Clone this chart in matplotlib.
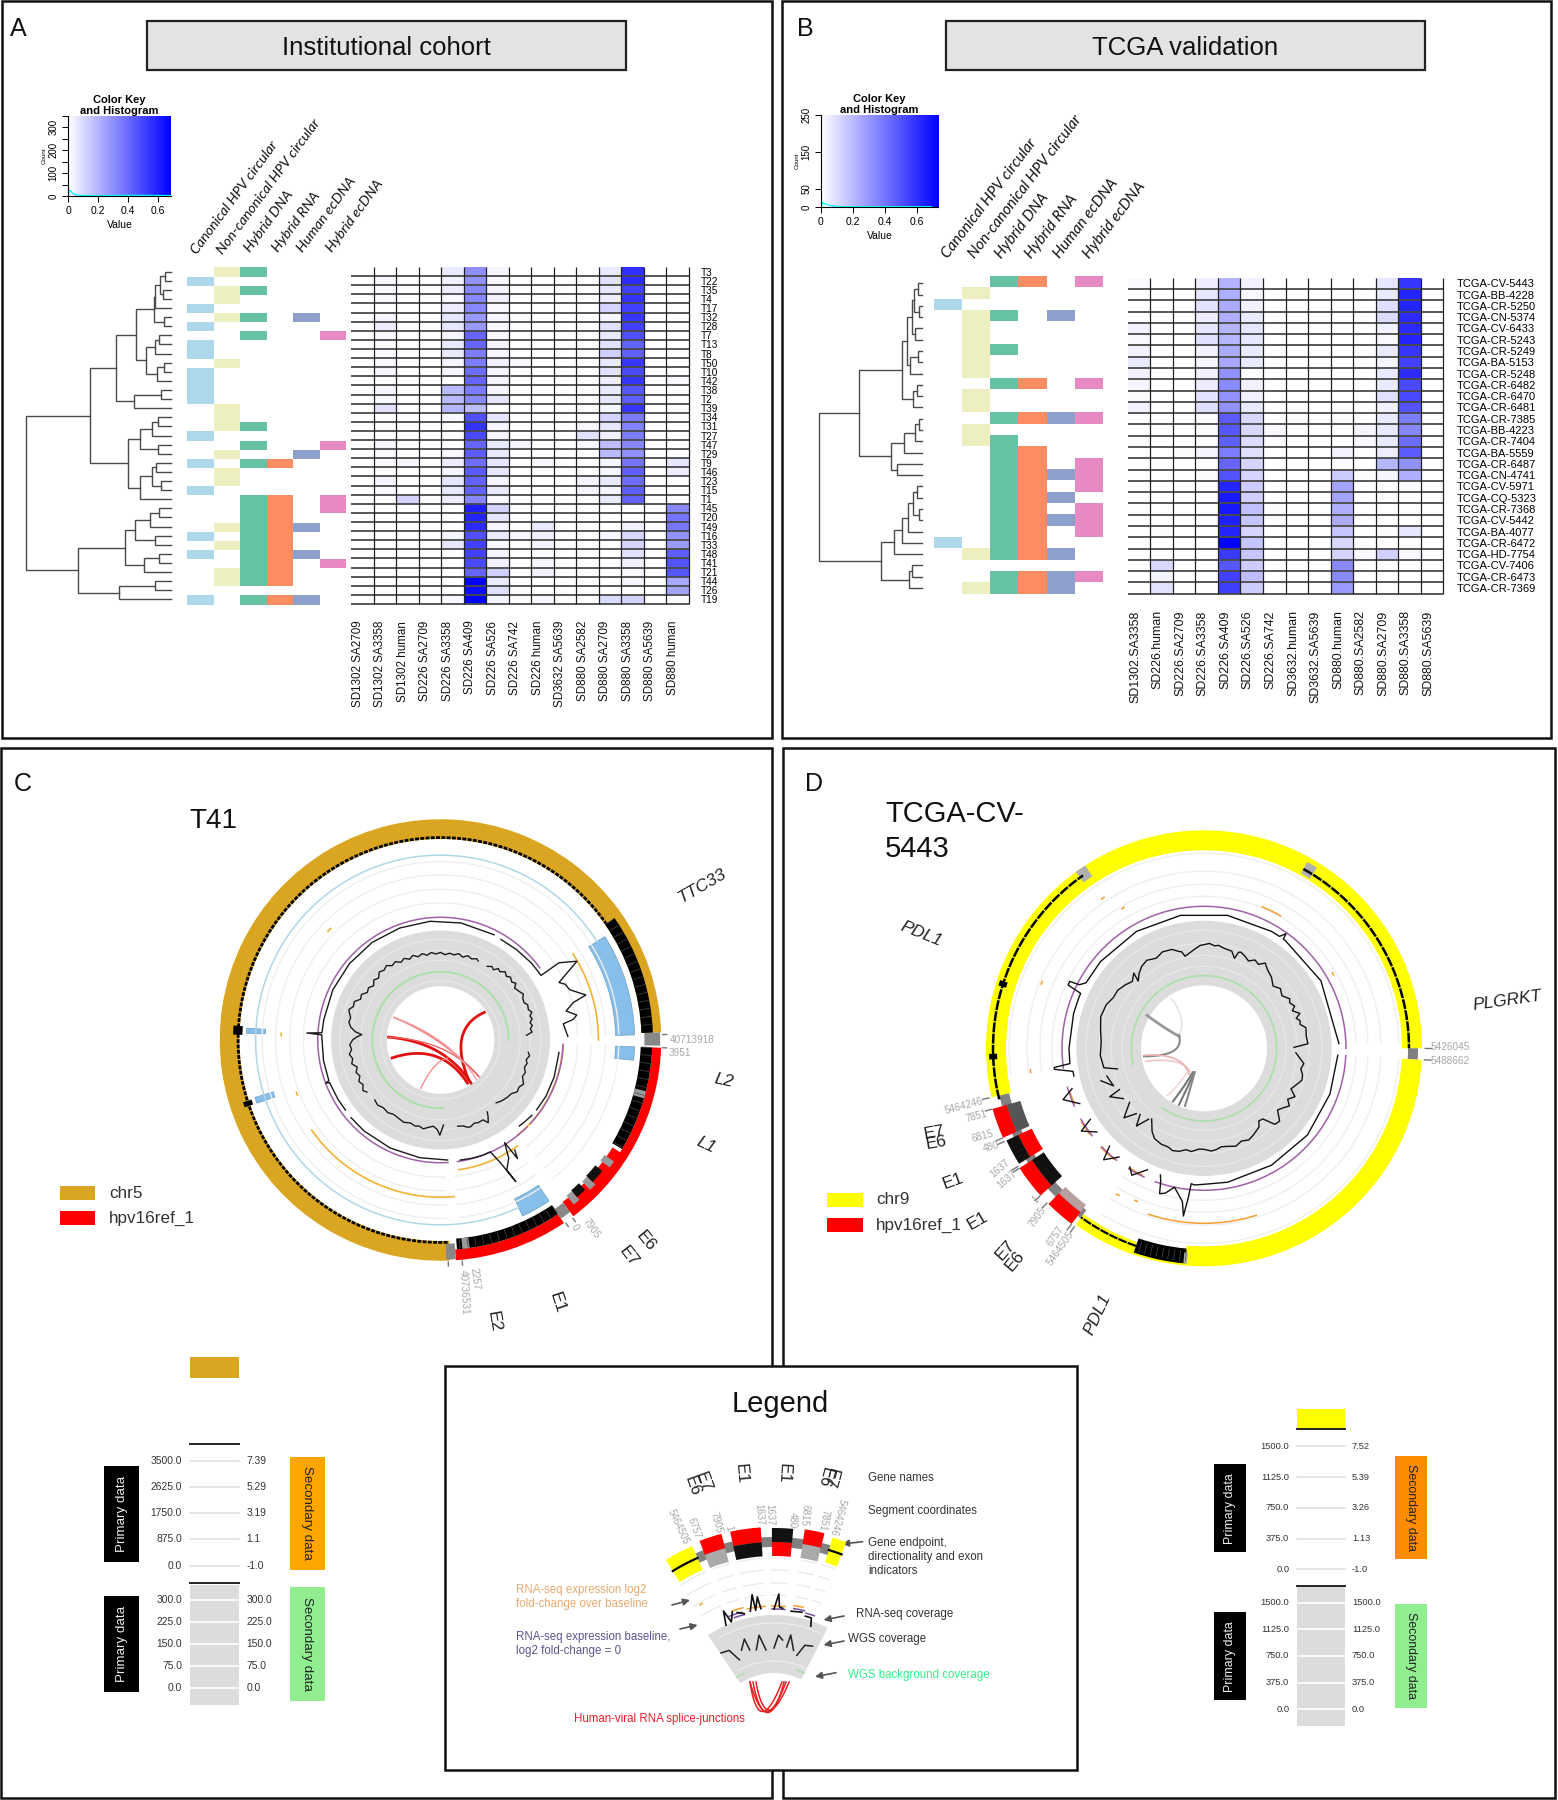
"""Four panel figure: two clustered heatmaps (A, B), two circular genome plots (C, D) and a legend."""
import matplotlib

matplotlib.use("Agg")
import matplotlib.pyplot as plt
import numpy as np
from matplotlib.colors import LinearSegmentedColormap
from matplotlib.patches import Rectangle

W, H = 1558, 1800
SANS = ["Liberation Sans", "DejaVu Sans"]
NARROW = ["Liberation Sans Narrow", "Liberation Sans", "DejaVu Sans"]
plt.rcParams["font.family"] = SANS

HEAT = LinearSegmentedColormap.from_list("heat", ["#FFFFFF", "#0000FF"])
ANNOT_COLORS = ["#ADD8EC", "#EDEFBE", "#66C2A5", "#FC8D62", "#8DA0CB", "#E78AC3"]
ANNOT_NAMES = ["Canonical HPV circular", "Non-canonical HPV circular", "Hybrid DNA",
               "Hybrid RNA", "Human ecDNA", "Hybrid ecDNA"]

# ---------------- panel A data ----------------
A_SAMPLES = ["T3", "T22", "T35", "T4", "T17", "T32", "T28", "T7", "T13", "T8", "T50", "T10", "T42",
             "T38", "T2", "T39", "T34", "T31", "T27", "T47", "T29", "T9", "T46", "T23", "T15", "T1",
             "T45", "T20", "T49", "T16", "T33", "T48", "T41", "T21", "T44", "T26", "T19"]
A_FEATURES = ["SD1302 SA2709", "SD1302 SA3358", "SD1302 human", "SD226 SA2709", "SD226 SA3358",
              "SD226 SA409", "SD226 SA526", "SD226 SA742", "SD226 human", "SD3632 SA5639",
              "SD880 SA2582", "SD880 SA2709", "SD880 SA3358", "SD880 SA5639", "SD880 human"]
# values are x100
A_VALUES = [
    [0, 0, 0, 0, 6, 31, 3, 0, 0, 0, 0, 6, 57, 0, 0],
    [0, 2, 0, 0, 4, 30, 2, 0, 0, 0, 0, 8, 58, 0, 0],
    [0, 2, 0, 0, 5, 33, 3, 0, 0, 0, 0, 7, 52, 0, 0],
    [0, 2, 0, 0, 2, 33, 4, 0, 0, 0, 0, 5, 56, 0, 0],
    [0, 0, 0, 0, 5, 33, 2, 0, 0, 0, 0, 12, 52, 0, 0],
    [0, 3, 0, 0, 7, 28, 3, 1, 0, 0, 0, 3, 55, 0, 0],
    [0, 5, 0, 0, 7, 28, 2, 0, 0, 0, 0, 8, 52, 0, 0],
    [0, 2, 0, 0, 3, 42, 2, 0, 0, 0, 0, 6, 48, 0, 0],
    [0, 1, 0, 0, 6, 42, 3, 0, 0, 0, 0, 8, 43, 0, 0],
    [0, 2, 0, 0, 6, 36, 2, 0, 0, 0, 0, 13, 44, 0, 0],
    [0, 2, 0, 0, 3, 36, 4, 2, 0, 0, 0, 6, 55, 0, 0],
    [0, 3, 0, 0, 3, 40, 3, 0, 0, 0, 0, 8, 50, 0, 0],
    [0, 0, 0, 0, 0, 42, 3, 0, 0, 0, 0, 5, 55, 0, 2],
    [0, 3, 0, 0, 19, 36, 3, 0, 0, 0, 0, 6, 46, 0, 0],
    [0, 2, 0, 0, 19, 32, 7, 0, 0, 0, 0, 7, 44, 0, 0],
    [0, 8, 0, 0, 20, 18, 0, 0, 0, 0, 0, 3, 55, 0, 0],
    [0, 0, 0, 0, 2, 48, 7, 0, 0, 0, 0, 12, 36, 0, 1],
    [0, 1, 0, 0, 0, 56, 3, 0, 0, 0, 2, 7, 34, 0, 0],
    [0, 0, 0, 0, 1, 50, 3, 0, 0, 0, 8, 4, 36, 0, 0],
    [0, 3, 0, 0, 0, 42, 6, 3, 0, 0, 2, 18, 33, 0, 0],
    [0, 2, 0, 0, 2, 45, 6, 0, 0, 0, 0, 19, 30, 0, 0],
    [0, 2, 3, 0, 5, 40, 7, 0, 2, 0, 0, 3, 38, 0, 7],
    [0, 0, 0, 0, 3, 45, 7, 0, 0, 0, 0, 3, 44, 0, 5],
    [0, 3, 0, 0, 7, 43, 3, 0, 0, 0, 3, 6, 40, 0, 0],
    [0, 2, 0, 0, 6, 43, 6, 0, 0, 0, 3, 3, 44, 0, 0],
    [0, 0, 12, 1, 5, 33, 2, 0, 0, 0, 0, 6, 43, 0, 0],
    [0, 0, 0, 0, 0, 62, 12, 0, 0, 0, 0, 0, 0, 0, 32],
    [0, 0, 0, 0, 0, 60, 7, 0, 0, 0, 0, 0, 0, 0, 38],
    [0, 0, 0, 0, 0, 58, 3, 0, 6, 0, 0, 0, 4, 0, 37],
    [0, 0, 0, 0, 3, 48, 6, 2, 4, 0, 0, 2, 11, 0, 30],
    [0, 0, 0, 0, 7, 52, 2, 0, 3, 0, 0, 0, 12, 0, 28],
    [0, 0, 0, 0, 1, 52, 3, 0, 1, 0, 0, 0, 8, 0, 44],
    [0, 0, 0, 0, 0, 50, 4, 0, 3, 0, 0, 0, 4, 0, 47],
    [0, 0, 0, 0, 0, 42, 13, 0, 4, 0, 0, 0, 2, 0, 46],
    [0, 0, 0, 0, 0, 70, 6, 0, 0, 0, 0, 0, 3, 0, 24],
    [0, 0, 0, 0, 0, 66, 9, 1, 0, 0, 0, 0, 0, 0, 25],
    [0, 0, 0, 0, 2, 70, 3, 0, 2, 0, 0, 10, 12, 0, 1],
]
A_CANONICAL = [1, 4, 6, 8, 9, 11, 12, 13, 14, 18, 21, 24, 29, 31, 36]
A_NONCANONICAL = [0, 2, 3, 5, 10, 15, 16, 17, 20, 22, 23, 28, 30, 33, 34]
A_HYBRID_DNA = [0, 2, 5, 7, 17, 19, 21, 25, 26, 27, 28, 29, 30, 31, 32, 33, 34, 36]
A_HYBRID_RNA = [21, 25, 26, 27, 28, 29, 30, 31, 32, 33, 34, 36]
A_HUMAN_ECDNA = [5, 20, 28, 31, 36]
A_HYBRID_ECDNA = [7, 19, 25, 26, 32]
# (height, left, right), ints are leaf rows
A_TREE = (291,
          (162,
           (110,
            (70,
             (35, (33, (22, (12, 0, 1), (16, 2, 3)), 4), (15, 5, 6)),
             (51, (32, (24, 7, 8), 9), (28, (15, 10, 11), 12))),
            (74, (21, 13, 14), 15)),
           (86,
            (63, (39, (26, 16, 17), 18), (27, 19, 20)),
            (62, (38, (30, 21, 22), (21, 23, 24)), 25))),
          (187,
           (92,
            (72, (42, (24, 26, 27), 28), (32, 29, 30)),
            (54, (24, 31, 32), 33)),
           (105, (33, 34, 35), 36)))
KEY_COUNT_X = [0.0, 0.003, 0.01, 0.02, 0.03, 0.05, 0.08, 0.12, 0.2, 0.3, 0.4, 0.5, 0.69]
A_KEY_COUNT = [350, 5, 25, 22, 12, 6, 3, 2, 1, 2, 3, 3, 2]
B_KEY_COUNT = [250, 3, 12, 10, 8, 5, 3, 1, 1, 1, 1, 1, 1]

# ---------------- panel B data ----------------
B_SAMPLES = ["TCGA-CV-5443", "TCGA-BB-4228", "TCGA-CR-5250", "TCGA-CN-5374", "TCGA-CV-6433",
             "TCGA-CR-5243", "TCGA-CR-5249", "TCGA-BA-5153", "TCGA-CR-5248", "TCGA-CR-6482",
             "TCGA-CR-6470", "TCGA-CR-6481", "TCGA-CR-7385", "TCGA-BB-4223", "TCGA-CR-7404",
             "TCGA-BA-5559", "TCGA-CR-6487", "TCGA-CN-4741", "TCGA-CV-5971", "TCGA-CQ-5323",
             "TCGA-CR-7368", "TCGA-CV-5442", "TCGA-BA-4077", "TCGA-CR-6472", "TCGA-HD-7754",
             "TCGA-CV-7406", "TCGA-CR-6473", "TCGA-CR-7369"]
B_FEATURES = ["SD1302.SA3358", "SD226.human", "SD226.SA2709", "SD226.SA3358", "SD226.SA409",
              "SD226.SA526", "SD226.SA742", "SD3632.human", "SD3632.SA5639", "SD880.human",
              "SD880.SA2582", "SD880.SA2709", "SD880.SA3358", "SD880.SA5639"]
B_VALUES = [
    [2, 0, 0, 5, 21, 4, 0, 0, 0, 0, 0, 7, 55, 0],
    [0, 0, 0, 7, 22, 2, 0, 0, 0, 0, 0, 6, 60, 0],
    [0, 0, 0, 8, 23, 4, 0, 0, 0, 0, 0, 9, 60, 0],
    [0, 0, 0, 5, 22, 6, 0, 0, 0, 0, 0, 10, 58, 0],
    [4, 0, 0, 7, 20, 7, 0, 0, 0, 0, 0, 4, 58, 0],
    [2, 0, 0, 9, 20, 7, 0, 0, 0, 0, 0, 2, 60, 0],
    [4, 0, 0, 4, 23, 6, 0, 0, 0, 0, 0, 6, 55, 0],
    [6, 0, 0, 3, 24, 6, 0, 0, 0, 0, 0, 3, 52, 0],
    [4, 0, 0, 4, 30, 0, 0, 0, 0, 0, 0, 6, 58, 0],
    [3, 0, 0, 5, 32, 4, 0, 0, 0, 0, 0, 6, 50, 0],
    [1, 0, 0, 8, 30, 4, 0, 0, 0, 0, 0, 9, 50, 0],
    [4, 0, 0, 9, 30, 6, 0, 0, 0, 0, 0, 4, 47, 0],
    [0, 0, 0, 1, 45, 11, 0, 1, 0, 1, 0, 6, 36, 0],
    [0, 0, 0, 1, 46, 11, 2, 0, 0, 0, 3, 6, 33, 0],
    [1, 0, 0, 1, 44, 10, 1, 0, 0, 0, 2, 6, 40, 0],
    [0, 0, 1, 3, 36, 9, 0, 0, 0, 4, 0, 5, 45, 0],
    [0, 0, 0, 0, 42, 12, 0, 0, 0, 1, 0, 20, 30, 0],
    [0, 0, 0, 1, 47, 12, 0, 0, 0, 14, 1, 3, 22, 0],
    [0, 0, 0, 0, 60, 14, 0, 0, 0, 25, 0, 0, 1, 0],
    [0, 0, 0, 0, 63, 13, 0, 0, 0, 25, 0, 0, 0, 0],
    [0, 0, 0, 0, 63, 17, 1, 0, 0, 22, 0, 0, 0, 0],
    [0, 0, 0, 0, 61, 16, 0, 0, 0, 23, 0, 0, 0, 0],
    [0, 1, 0, 0, 60, 12, 0, 0, 0, 16, 0, 1, 7, 0],
    [0, 0, 0, 0, 70, 16, 0, 0, 0, 11, 0, 0, 0, 0],
    [0, 0, 0, 0, 54, 16, 0, 0, 0, 12, 2, 13, 2, 0],
    [0, 11, 0, 0, 46, 14, 0, 0, 0, 32, 0, 0, 0, 0],
    [0, 3, 0, 0, 52, 18, 0, 0, 0, 32, 0, 0, 0, 0],
    [0, 8, 0, 0, 53, 14, 0, 0, 0, 28, 0, 0, 0, 0],
]
B_CANONICAL = [2, 23]
B_NONCANONICAL = [1, 3, 4, 5, 6, 7, 8, 10, 11, 13, 14, 24, 27]
B_HYBRID_DNA = [0, 3, 6, 9, 12, 14, 15, 16, 17, 18, 19, 20, 21, 22, 23, 24, 26, 27]
B_HYBRID_RNA = [0, 9, 12, 15, 16, 17, 18, 19, 20, 21, 22, 23, 24, 26, 27]
B_HUMAN_ECDNA = [3, 12, 17, 19, 21, 24, 26, 27]
B_HYBRID_ECDNA = [0, 9, 12, 16, 17, 18, 20, 21, 22, 26]
B_TREE = (206,
          (125,
           (40,
            (30,
             (20, (16, (8, 0, 1), (5, 2, 3)), (13, 4, 5)),
             (23, (8, 6, 7), 8)),
            (18, (10, 9, 10), 11)),
           (62,
            (35, (13, (6, 12, 13), 14), 15),
            (50, 16, 17))),
          (81,
           (56,
            (40, (28, (18, (10, 18, 19), (5, 20, 21)), 22), 23),
            24),
           (26, (20, 25, 26), 27)))

# ---------------- panel C data (radius in reference units, 2.786 per pixel) ----------------
C_WGS_THETA = [98, 100, 103, 105, 108, 111, 114, 118, 121, 124, 127, 131, 135, 138.5, np.nan,
               147, 148, 150, 152, 155.5, 158, 161, 163, 165, 168.7, np.nan,
               178, 179, 180.4, 182, 184.8, 188, 191, 194, 196.3, 200, 204, 207.6, 212, 216, 220, 224, 227.6, np.nan,
               234.7, 237, 240, 243, 246, 249, 252, 255, 258, 261, 264, 267, 270, 272, 273.9, 275.5, 278, 281, 284,
               287, 288.4, 291, 294, 297, 300, 303, 306, 309, 312, 315, 318, 321, 324, 327, 330, 333, 336, 339,
               342, 345, 348, 351, 354, 357, 360, 363, 366, 369, 372, 375, 378, 381, 384, 385.5, np.nan,
               32.4, 35, 37, 39, 41, 43.5, 46, 48, 51, 53, 55, 58.5, 61, 63, 66, 68, 70.9, 73, 75, 77, 79, 81, 83, 85,
               86.9]
C_WGS_R = [247, 252, 245, 250, 246, 253, 250, 262, 255, 258, 248, 245, 240, 234, np.nan,
           239, 250, 266, 252, 253, 250, 256, 254, 248, 245, np.nan,
           237, 248, 265, 250, 241, 246, 252, 247, 250, 246, 251, 248, 245, 250, 247, 252, 248, np.nan,
           251, 258, 249, 255, 246, 252, 244, 256, 250, 257, 249, 253, 245, 234, 220, 238, 252, 260, 258,
           266, 269, 260, 263, 250, 254, 243, 248, 240, 250, 244, 255, 250, 256, 247, 252, 243, 249, 241,
           248, 240, 246, 239, 245, 240, 244, 238, 243, 240, 246, 239, 247, 242, 248, 244, np.nan,
           243, 250, 245, 256, 252, 262, 255, 262, 256, 263, 252, 258, 264, 257, 255, 262, 259, 266, 258, 262, 254,
           259, 252, 256, 240]
C_RNA_THETA = [233.6, 240, 249, 249.4, 250, 260, 270, 272.5, 273, 273.5, 280, 295, 310, 325, 340, 355, 370, 387, np.nan,
               176.6, 190, 205, 220, 229, np.nan,
               170.7, 165, 160, 156, 154, 152, 153, 150, 148, 147, 146, np.nan,
               137.5, 134, 129.5, np.nan, 126, 118, 108, 96, np.nan,
               31, 40, 50, 57.3, 56.9, 60, 64.1, 66, 68.7, 72.8, 74.2, 77, 79.6, 81.2, 82.5, 88.4]
C_RNA_R = [329, 330, 331, 342, 331, 331, 330, 331, 373, 331, 330, 331, 331, 332, 332, 332, 331, 329, np.nan,
           335, 333, 332, 331, 330, np.nan,
           339, 341, 342, 341, 380, 447, 407, 380, 337, 394, 370, np.nan,
           325, 327, 330, np.nan, 331, 333, 333, 332, np.nan,
           327, 329, 332, 333, 394, 439, 367, 381, 386, 424, 385, 359, 386, 374, 345, 355]
C_ORANGE_ARCS = [(57, 90, 440), (175, 235, 438), (144, 172, 365), (93, 141, 341),
                 (314, 315.5, 436), (271.6, 272.4, 444), (249, 250, 427)]
C_PURPLE_ARCS = [(176.5, 414), (92, 133), (135, 172)]
C_BLUE_RECTS = [(57.8, 88.5), (92, 96), (146, 155), (272, 273.5), (251, 252.8)]
C_GRID_R = [497, 460, 420, 382]
C_BAND_LINES_R = [280, 250, 222, 165]
C_ARCS = [((-130, -63), (10, -5), (108, 103), "#F08080", 1.2),
          ((-145, -8), (10, 5), (85, 120), "#E01010", 2.0),
          ((-135, 50), (0, 5), (75, 120), "#E01010", 2.0),
          ((122, -77), (20, -30), (78, 110), "#E01010", 2.0),
          ((-55, 135), (-20, 60), (20, 50), "#F09090", 1.0),
          ((-145, -8), (20, 0), (105, 100), "#EE6060", 1.0),
          ((-130, -63), (30, -5), (100, 110), "#F4A0A0", 1.0)]
C_GENE_LABELS = [("TTC33", 702, 886, 30, True), ("L2", 724, 1081, -12, True), ("L1", 706, 1145, -25, True),
                 ("E6", 646, 1241, -50, False), ("E7", 629, 1257, -52, False), ("E1", 557, 1303, -72, False),
                 ("E2", 494, 1322, -80, False)]
C_COORDS = [("40713918", 692, 1040, 0), ("3951", 680, 1053, 0), ("7905", 591, 1228, -55), ("0", 575, 1228, -55),
            ("2257", 475, 1279, -83), ("40736531", 464, 1292, -87)]
C_COORD_THETA = [88.6, 92, 143.4, 145.6, 174.4, 178]

# ---------------- panel D data (radius in pixels) ----------------
D_WGS_THETA = [89.4, 87.5, 83, 78.6, 76, 74, 72, 70, 67, 65, 62, 60, 56, 52, 48, 43.5, 39, 35.7, 33, 30, 27, 23.7, 21,
               19.8, 18.7, 16, 11.4, 8, 6, 3, 0.9, -2, -5, -8, -11.6, -13, -14.5, -18, -23.3, -28, -33, -37.2, -41,
               -44.4, -43, -47, -51, -56, -61, -66, -73, -80, -86.5, -94, -101, -103.4, np.nan,
               252.5, 247.5, 254, np.nan, 244, 242.8, 238, np.nan, 234, 229, 226, np.nan, 224, 221, 218, np.nan,
               216.5, 212, 208.7, 204, 200, 197, 193.6, 190, 187, 183, 180, 176, 173, 170, 166, 162, 158, 154, 150.7,
               148, 145, 143, 140.2, 137, 133.9, 130, 127, 124, 121.4, 118, 115, 111.8, 108, 105, 102, 98.7, 92.8]
D_WGS_R = [90, 104, 103, 104, 99, 100, 97, 102, 96, 100, 97, 99, 94, 97, 93, 98, 101, 105, 100, 102, 98, 101, 103,
           102, 95, 101, 102, 104, 103, 105, 104, 103, 100, 97, 94, 99, 100, 104, 105, 102, 105, 103, 99,
           94, 103, 98, 101, 104, 104, 107, 108, 105, 103, 104, 102, 89, np.nan,
           108, 98, 101, np.nan, 94, 106, 95, np.nan, 92, 106, 94, np.nan, 92, 103, 90, np.nan,
           88, 98, 103, 105, 105, 107, 106, 103, 104, 101, 101, 103, 102, 100, 101, 103, 100, 102, 100,
           98, 96, 91, 92, 104, 105, 96, 99, 103, 98, 103, 96, 99, 103, 102, 99, 101, 92]
D_RNA_THETA = [258, 260, 262, 262.7, 263.5, 270, 285, 292, 294, 295, 296.5, 297, 299, 310, 330,
               350, 370, 390, 394, 395.6, 396, 397, 420, 448, np.nan,
               93, 110, 130, 150, 170, 180, 184, 185.4, 186, 187, 188, 190, 192, 195, 197, 198, 199, np.nan,
               205, 209.6, 212, np.nan, 218, 222, 224, np.nan, 232, 236, 238, np.nan, 246, 250, 253]
D_RNA_R = [133, 133, 151, 151, 135, 135, 135, 135, 135, 150, 150, 140, 135, 135, 135,
           135, 135, 135, 135, 141, 135, 135, 135, 135, np.nan,
           134, 134, 135, 135, 136, 136, 137, 136, 150, 169, 155, 148, 142, 150, 152, 140, 134, np.nan,
           134, 146, 140, np.nan, 138, 150, 136, np.nan, 136, 148, 134, np.nan, 136, 150, 138]
D_ORANGE_ARCS = [(162.6, 198.6, 175), (22.4, 30, 153), (325.5, 326.5, 181), (329.5, 330.5, 162), (291.5, 292.5, 175),
                 (262, 263, 175), (59.5, 60.5, 149), (203.5, 204.5, 167), (210, 211, 170),
                 (206, 212, 141), (219, 226, 143), (233, 239, 143), (247, 252, 141)]
D_PURPLE_ARCS = [(262, 450), (93, 200), (205, 212), (218, 226), (232, 240), (246, 254)]
D_GRID_R = [195, 177, 164, 152]
D_BAND_LINES_R = [118, 105, 93, 82]
D_ARCS = [((-33, -50), (-17, -31), (-25, -12), "#E0E0E0", 1.0),
          ((-57, -33), (-41, -21), (-25, -12), "#999999", 2.0),
          ((-60, 8), (-19, 8), (-25, -13), "#888888", 1.5),
          ((-58, 13), (-17, 8), (-12, 28), "#F0C8C8", 1.2),
          ((-59, 7), (-21, 4.5), (-15, 26), "#E8B0B0", 1.2),
          ((-37, 47.5), (-25, 37), (-17, 24), "#F0D0D0", 1.0),
          ((-31, 53), (-21, 40), (-11, 24), "#777777", 1.5),
          ((-25, 56.5), (-17, 40), (-9.4, 24), "#777777", 1.5),
          ((-19, 57.6), (-13.5, 40), (-9.4, 24), "#888888", 1.5)]
D_BLOCKS = [(246, 254, "red", "#555555", 191), (228, 237, "red", "#111111", 191), (217, 225, "red", "#B8A0A0", 196)]
D_BLOCK_FLIPPED = (238, 245)
D_GENE_LABELS = [("E7", 934, 1133, 10, False), ("E6", 936, 1143, 10, False), ("E1", 953, 1181, 20, False),
                 ("E1", 978, 1221, 30, False), ("E7", 1005, 1250, 48, False), ("E6", 1015, 1261, 50, False),
                 ("PDL1", 921, 934, -22, True), ("PDL1", 1098, 1314, 65, True), ("PLGRKT", 1507, 1001, 8, True)]
D_COORDS = [("5426045", 1450, 1047, 0), ("5488662", 1450, 1061, 0), ("5464246", 964, 1106, 15), ("7851", 976, 1116, 15),
            ("6815", 983, 1136, 15), ("480", 991, 1147, 15), ("1637", 1000, 1169, 40), ("1637", 1007, 1180, 40),
            ("1", 1035, 1200, 40), ("7905", 1037, 1217, 55), ("6757", 1055, 1236, 55), ("5464505", 1060, 1248, 55)]
D_COORD_THETA = [90, 93, 257, 254, 246, 245, 237.6, 237, 228, 225.4, 217, 216]

# ---------------- scale legends ----------------
C_RNA_PRIMARY = ["3500.0", "2625.0", "1750.0", "875.0", "0.0"]
C_RNA_SECONDARY = ["7.39", "5.29", "3.19", "1.1", "-1.0"]
C_WGS_TICKS = ["300.0", "225.0", "150.0", "75.0", "0.0"]
D_RNA_PRIMARY = ["1500.0", "1125.0", "750.0", "375.0", "0.0"]
D_RNA_SECONDARY = ["7.52", "5.39", "3.26", "1.13", "-1.0"]
D_WGS_TICKS = ["1500.0", "1125.0", "750.0", "375.0", "0.0"]

# ---------------- legend fan ----------------
FAN_BLOCKS = [(-21.2, -14.8, "red", "#AAAAAA"), (-12.3, -3.7, "red", "#111111"),
              (8.6, 14.2, "red", "#AAAAAA")]
FAN_BLOCK_FLIPPED = (-0.6, 5.4)
FAN_YELLOW = [(-32, -23.6), (16.7, 20.7)]
FAN_WGS = [([-33.5, -28.5, -25.3], [96, 94, 81]), ([-21.4, -17.5, -16.3], [89, 98.6, 86.5]),
           ([-12, -8.7, -5.5], [85, 99, 83.4]), ([0, 2.6, 5.3], [85, 98, 93.4]),
           ([8.4, 9.7, 13.3], [87, 99.4, 85]), ([16.4, 19.4, 23.9], [81, 93, 95])]
FAN_RNA = [([-24, -22.5, -21, -19], [118, 132, 119, 128]), ([-11, -9, -8.5, -7, -6], [124, 140, 124, 137, 125]),
           ([0, 2, 2.5, 4], [124, 139, 126, 125]), ([-17, -14], [126, 123]), ([8, 13], [123, 124]),
           ([15, 18, 19], [121, 121, 113])]
FAN_ORANGE = [(-19, -14, 129), (-12, -4, 127), (-1, 5, 127), (9, 13, 129), (-30, -29, 148)]
FAN_PURPLE = [(-21, -15, 125), (-19, -14, 122), (9, 14, 126), (-1, 5, 124), (15, 19, 124)]
FAN_GRID = [175, 163, 150, 138]
FAN_GAPS = [(-32, -23), (-20, -15), (-12, -4), (-1, 5), (9, 14), (16, 20)]
FAN_ARCS = [((-24, 51), (-15, -8), (8, 51)), ((-21, 51), (-10, -8), (12, 51)), ((-18, 51), (-8, -5), (15, 51)),
            ((-24, 51), (-6, -10), (10, 51))]
FAN_COORDS = [("5464505", 678, 1527, -65), ("6757", 694, 1528, -70), ("7905", 716, 1523, -75), ("1", 729, 1528, -80),
              ("1637", 759, 1515, -85), ("1637", 770, 1515, -88), ("480", 793, 1520, -92), ("6815", 805, 1515, -95),
              ("7851", 824, 1520, -100), ("5464246", 838, 1517, -105)]
FAN_GENES = [("E7", 703, 1482, -70), ("E6", 692, 1486, -70), ("E1", 741, 1474, -85), ("E1", 784, 1473, -93),
             ("E7", 830, 1478, -105), ("E6", 824, 1477, -105)]


def px_axes(x0, y0, x1, y1, **kw):
    return fig.add_axes([x0 / W, 1 - y1 / H, (x1 - x0) / W, (y1 - y0) / H], **kw)


def polar_axes(cx, cy, half_px, rmax):
    ax = px_axes(cx - half_px, cy - half_px, cx + half_px, cy + half_px, projection="polar")
    ax.set_theta_zero_location("N")
    ax.set_theta_direction(-1)
    ax.set_rlim(0, rmax)
    ax.set_axis_off()
    return ax


def heatmap(box, values, samples, features, label_pad, row_font, col_font, col_pad, col_shift):
    ax = px_axes(*box)
    data = np.array(values) / 100
    n, m = data.shape
    ax.pcolormesh(np.arange(m + 1), np.arange(n + 1), data, cmap=HEAT, vmin=0, vmax=0.7)
    ax.set_xlim(0, m)
    ax.set_ylim(n, 0)
    ax.hlines(np.arange(1, n + 1), 0, m, color="#4a4a4a", lw=1.3, clip_on=False)
    ax.vlines(np.arange(1, m + 1), 0, n, color="#222222", lw=0.9, clip_on=False)
    for s in ax.spines.values():
        s.set_visible(False)
    ax.set_yticks(np.arange(n) + 0.5, samples, family=NARROW, fontsize=row_font)
    ax.yaxis.tick_right()
    ax.set_xticks(np.arange(m) + col_shift, features, rotation=90, fontsize=col_font, color="#111111")
    ax.tick_params(axis="both", length=0)
    ax.tick_params(axis="y", pad=label_pad)
    ax.tick_params(axis="x", pad=col_pad)


def annotation(box, members, n):
    ax = px_axes(*box)
    for col, rows in enumerate(members):
        ax.barh(np.array(rows) + 0.5, 1, left=col, height=1.0, color=ANNOT_COLORS[col], lw=0)
    ax.set_xlim(0, 6)
    ax.set_ylim(n, 0)
    ax.set_axis_off()


def draw_tree(ax, node):
    if isinstance(node, int):
        return node + 0.5, 0
    h, left, right = node
    yl, hl = draw_tree(ax, left)
    yr, hr = draw_tree(ax, right)
    ax.plot([hl, h, h, hr], [yl, yl, yr, yr], color="#4a4a4a", lw=1.0, solid_joinstyle="miter", clip_on=False)
    return (yl + yr) / 2, h


def dendrogram(box, tree, n):
    ax = px_axes(*box)
    draw_tree(ax, tree)
    ax.set_xlim(tree[0], 0)
    ax.set_ylim(n, 0)
    ax.set_axis_off()


def color_key(box, ymax, yticks, ylabels, counts, xmax):
    ax = px_axes(*box)
    ax.imshow(np.linspace(0, 1, 256)[None, :], cmap=HEAT, extent=[0, xmax, 0, ymax], aspect="auto", vmin=0, vmax=1)
    ax.plot(KEY_COUNT_X, counts, color="#00FFFF", lw=0.9)
    ax.set_xlim(0, xmax)
    ax.set_ylim(0, ymax)
    ax.spines["top"].set_visible(False)
    ax.spines["right"].set_visible(False)
    ax.set_xticks([0, 0.2, 0.4, 0.6], ["0", "0.2", "0.4", "0.6"], family=NARROW, fontsize=7.5)
    ax.set_yticks(yticks, ylabels, family=NARROW, fontsize=7, rotation=90, va="center")
    ax.tick_params(length=4, width=0.7, pad=3)
    ax.set_xlabel("Value", family=NARROW, fontsize=7.5, labelpad=3)
    ax.set_ylabel("Count", fontsize=4.5, labelpad=1)
    ax.set_title("Color Key\nand Histogram", family=NARROW, fontsize=8, fontweight="bold", pad=-2, linespacing=1.1)


def arc(ax, t0, t1, r, **kw):
    t = np.radians(np.linspace(t0, t1, 240))
    ax.plot(t, np.full(t.shape, r), **kw)


def band(ax, t0, t1, r0, r1, color, **kw):
    kw.setdefault("lw", 0)
    ax.bar(np.radians((t0 + t1) / 2), r1 - r0, width=np.radians(abs(t1 - t0)), bottom=r0, color=color, **kw)


def trace(ax, thetas, radii, **kw):
    ax.plot(np.radians(thetas), radii, **kw)


def splice(ax, start, ctrl, end, color, lw):
    s = np.linspace(0, 1, 60)
    x = (1 - s) ** 2 * start[0] + 2 * s * (1 - s) * ctrl[0] + s ** 2 * end[0]
    y = (1 - s) ** 2 * start[1] + 2 * s * (1 - s) * ctrl[1] + s ** 2 * end[1]
    ax.plot(np.arctan2(x, -y), np.hypot(x, y), color=color, lw=lw)


def chevrons(ax, t0, t1, r0, r1, step=2.2, color="#4a4a4a"):
    ax.vlines(np.radians(np.arange(t0, t1, step)), r0, r1, color=color, lw=0.5)


def scale_legend(x0, x1, swatch, swatch_color, top_line, rna_y, mid_line, wgs_box, wgs_y,
                 rna_primary, rna_secondary, wgs_ticks, left_x, right_x, primary_x, primary_y, second_x, second_y,
                 second_color, tick_font, box_font):
    bg.add_patch(Rectangle((x0, swatch[0]), x1 - x0, swatch[1] - swatch[0], fc=swatch_color, lw=0))
    bg.plot([x0, x1], [top_line, top_line], color="#222222", lw=1.4)
    for y, a, b in zip(rna_y, rna_primary, rna_secondary):
        bg.plot([x0, x1], [y, y], color="#E2E2E2", lw=1.2)
        bg.text(left_x, y, a, ha="right", va="center", fontsize=tick_font, color="#333333")
        bg.text(right_x, y, b, ha="left", va="center", fontsize=tick_font, color="#333333")
    bg.plot([x0, x1], [mid_line, mid_line], color="#222222", lw=1.4)
    bg.add_patch(Rectangle((x0, wgs_box[0]), x1 - x0, wgs_box[1] - wgs_box[0], fc="#DCDCDC", lw=0))
    for y, a in zip(wgs_y, wgs_ticks):
        bg.plot([x0, x1], [y, y], color="white", lw=1.2)
        bg.text(left_x, y, a, ha="right", va="center", fontsize=tick_font, color="#333333")
        bg.text(right_x, y, a, ha="left", va="center", fontsize=tick_font, color="#333333")
    for (y0, y1) in primary_y:
        bg.add_patch(Rectangle((primary_x[0], y0), primary_x[1] - primary_x[0], y1 - y0, fc="black", lw=0))
        bg.text(sum(primary_x) / 2, (y0 + y1) / 2, "Primary data", color="#EEEEEE", rotation=90,
                ha="center", va="center", fontsize=box_font)
    for (y0, y1), c in zip(second_y, [second_color, "#90EE90"]):
        bg.add_patch(Rectangle((second_x[0], y0), second_x[1] - second_x[0], y1 - y0, fc=c, lw=0))
        bg.text(sum(second_x) / 2, (y0 + y1) / 2, "Secondary data", color="#222222", rotation=-90,
                ha="center", va="center", fontsize=box_font)


def text_rows(rows, font=12):
    for label, x, y, rot, italic in rows:
        bg.text(x, y, label, rotation=rot, ha="center", va="center", rotation_mode="anchor", fontsize=font,
                style="italic" if italic else "normal", color="#222222")


def coord_rows(rows, font=7.2):
    for label, x, y, rot in rows:
        bg.text(x, y, label, rotation=rot, ha="center", va="center", rotation_mode="anchor", fontsize=font,
                color="#A8A8A8")


fig = plt.figure(figsize=(W / 100, H / 100), dpi=100)
bg = fig.add_axes([0, 0, 1, 1])
bg.set_xlim(0, W)
bg.set_ylim(H, 0)
bg.set_axis_off()

# panel frames and headers
for x0, y0, x1, y1 in [(2, 1, 772, 737.7), (782.5, 1, 1551.5, 737.7), (1, 748.3, 772.5, 1798),
                       (783.5, 748.3, 1555, 1798)]:
    bg.add_patch(Rectangle((x0, y0), x1 - x0, y1 - y0, fc="white", ec="#111111", lw=1.8))
for x0, label in [(147, "Institutional cohort"), (946, "TCGA validation")]:
    bg.add_patch(Rectangle((x0, 21), 479, 49, fc="#E3E3E3", ec="#222222", lw=1.6))
    bg.text(x0 + 239.5, 48, label, ha="center", va="center", fontsize=18.5, color="#111111")
for label, x, y in [("A", 18, 29), ("B", 805, 29), ("C", 23, 784), ("D", 814, 784)]:
    bg.text(x, y, label, ha="center", va="center", fontsize=18, color="#111111")

# panel A
color_key((68, 116, 171, 196), 350, [0, 50, 100, 150, 200, 250, 300, 350], ["0", "", "100", "", "200", "", "300", ""],
          A_KEY_COUNT, 0.69)
for name, x, y in zip(ANNOT_NAMES, [199, 225, 252, 280, 305, 334], [256, 256, 254, 254, 254, 254]):
    bg.text(x, y, name, rotation=53.5, ha="left", va="bottom", rotation_mode="anchor", fontsize=10.3,
            family=["Lato", "Liberation Sans"], style="italic", color="#111111")
dendrogram((25.5, 267, 171, 604), A_TREE, 37)
annotation((187, 267.5, 346.5, 604.5), [A_CANONICAL, A_NONCANONICAL, A_HYBRID_DNA, A_HYBRID_RNA, A_HUMAN_ECDNA,
                                        A_HYBRID_ECDNA], 37)
heatmap((351, 267, 688.5, 604), A_VALUES, A_SAMPLES, A_FEATURES, 9, 7.2, 8.4, 12, 0.3)

# panel B
color_key((821, 115, 938, 207), 250, [0, 50, 150, 250], ["0", "50", "150", "250"], B_KEY_COUNT, 0.73)
for name, x, y in zip(ANNOT_NAMES, [950, 977, 1004, 1034, 1062, 1092], [261, 261, 261, 261, 261, 261]):
    bg.text(x, y, name, rotation=52.5, ha="left", va="bottom", rotation_mode="anchor", fontsize=11,
            family=["Lato", "Liberation Sans"], style="italic", color="#111111")
dendrogram((818.5, 277.7, 921.5, 593.7), B_TREE, 28)
annotation((933.5, 276, 1103, 593.7), [B_CANONICAL, B_NONCANONICAL, B_HYBRID_DNA, B_HYBRID_RNA, B_HUMAN_ECDNA,
                                       B_HYBRID_ECDNA], 28)
heatmap((1127.7, 277.7, 1443.3, 593.7), B_VALUES, B_SAMPLES, B_FEATURES, 10, 8.0, 8.9, 12, 0.33)

# panel C
bg.text(189, 821, "T41", ha="left", va="center", fontsize=20, color="#111111")
ax = polar_axes(440.5, 1040, 640 / 2.786, 640)
band(ax, 0, 360, 150, 305, "#DCDCDC")
for r in C_BAND_LINES_R:
    arc(ax, 0, 360, r, color="#E8E8E8", lw=0.9)
arc(ax, 178, 450, 190, color="#A8E0A8", lw=1.4)
for t0, t1 in [(92, 141), (145, 174), (178, 448)]:
    for r in C_GRID_R:
        arc(ax, t0, t1, r, color="#EFEFEF", lw=1.0)
arc(ax, 155, 360, 515, color="#ADD8E6", lw=1.1)
arc(ax, 360, 418, 515, color="#ADD8E6", lw=1.1)
for t0, t1 in C_BLUE_RECTS:
    band(ax, t0, t1, 488, 541, "#87BFEA", edgecolor="#6A9FC0", lw=0.5)
for t0, t1, r in C_ORANGE_ARCS:
    arc(ax, t0, t1, r, color="#F2B134", lw=1.2)
for t0, t1 in C_PURPLE_ARCS:
    arc(ax, t0, t1, 342, color="#A05FA8", lw=1.1)
trace(ax, C_RNA_THETA, C_RNA_R, color="#1a1a1a", lw=1.0)
trace(ax, C_WGS_THETA, C_WGS_R, color="#1a1a1a", lw=1.0)
band(ax, 177.5, 448, 560, 615, "#DAA520")
band(ax, 92, 143, 590, 615, "#FF0000")
band(ax, 122, 143, 565, 600, "#FF0000")
band(ax, 146, 176, 585, 615, "#FF0000")
band(ax, 448, 451.5, 568, 612, "#888888")
band(ax, 176, 178.5, 568, 612, "#888888")
band(ax, 143, 146, 568, 600, "#888888")
arc(ax, 178, 415, 564, color="black", lw=2.0, ls=(0, (1.4, 0.5)))
band(ax, 415, 448, 560, 592, "black")
chevrons(ax, 415, 448, 562, 590)
band(ax, 92, 121, 558, 590, "black")
chevrons(ax, 92, 121, 560, 588)
band(ax, 146, 175.5, 555, 585, "black")
chevrons(ax, 146, 175.5, 557, 583)
for t0, t1 in [(104, 106), (125, 127), (133, 135), (139, 141)]:
    band(ax, t0, t1, 558, 590, "#9a9a9a")
for t0, t1 in [(129, 133), (136, 139)]:
    band(ax, t0, t1, 555, 580, "#111111")
band(ax, 172, 174, 555, 585, "#9a9a9a")
band(ax, 271.5, 274, 552, 578, "black")
band(ax, 251, 252.5, 552, 577, "black")
ax.vlines(np.radians(C_COORD_THETA), 617, 632, color="#777777", lw=1.0)
for start, ctrl, end, color, lw in C_ARCS:
    splice(ax, start, ctrl, end, color, lw)
text_rows(C_GENE_LABELS, font=12.5)
coord_rows(C_COORDS)
for rect_y, color, label in [(1186, "#DAA520", "chr5"), (1211, "#FF0000", "hpv16ref_1")]:
    bg.add_patch(Rectangle((60, rect_y), 35, 14, fc=color, lw=0))
    bg.text(109, rect_y + 7, label, va="center", fontsize=12.3, color="#333333")

# panel D
bg.text(885, 814, "TCGA-CV-", ha="left", va="center", fontsize=21, color="#111111")
bg.text(885, 849, "5443", ha="left", va="center", fontsize=21, color="#111111")
ax = polar_axes(1204, 1048.3, 240, 240)
band(ax, 0, 360, 63, 127.6, "#DCDCDC")
for r in D_BAND_LINES_R:
    arc(ax, 0, 360, r, color="#E8E8E8", lw=0.9)
arc(ax, 92, 215, 72.7, color="#A8E0A8", lw=1.2)
arc(ax, 257, 450, 72.7, color="#A8E0A8", lw=1.2)
for t0, t1 in [(93, 212), (262, 448)]:
    for r in D_GRID_R:
        arc(ax, t0, t1, r, color="#EFEFEF", lw=1.0)
for t0, t1, r in D_ORANGE_ARCS:
    arc(ax, t0, t1, r, color="#F2A030", lw=1.1)
for t0, t1 in D_PURPLE_ARCS:
    arc(ax, t0, t1, 142, color="#A05FA8", lw=1.1)
trace(ax, D_RNA_THETA, D_RNA_R, color="#111111", lw=1.0)
trace(ax, D_WGS_THETA, D_WGS_R, color="#111111", lw=1.0)
band(ax, 93, 185, 198, 218, "#FFFF00")
band(ax, 185, 216, 205, 218, "#FFFF00")
band(ax, 257, 450, 198, 218, "#FFFF00")
band(ax, 450, 453, 204, 214, "#808080")
band(ax, 216, 257, 200, 210, "#808080")
arc(ax, 389, 450, 205, color="black", lw=1.8, ls=(0, (4, 0.5)))
arc(ax, 256, 325, 211, color="black", lw=1.8, ls=(0, (4, 0.5)))
arc(ax, 199, 216, 209, color="black", lw=1.6, ls=(0, (4, 0.5)))
band(ax, 185, 199, 201, 216, "black")
chevrons(ax, 185, 199, 203, 214, step=1.6)
band(ax, 184.5, 185.5, 205, 216, "#B0B0B0")
band(ax, 29, 32, 200, 213, "#B0B0B0")
band(ax, 324, 327, 205, 218, "#B0B0B0")
band(ax, 267, 268.5, 207, 215, "black")
band(ax, 287, 288.5, 207, 215, "black")
for t0, t1, c_out, c_in, r_in in D_BLOCKS:
    band(ax, t0, t1, 205, 220, c_out)
    band(ax, t0, t1, r_in, 205, c_in)
band(ax, *D_BLOCK_FLIPPED, 190, 205, "red")
band(ax, *D_BLOCK_FLIPPED, 205, 218, "#111111")
ax.vlines(np.radians(D_COORD_THETA), 220, 228, color="#777777", lw=1.0)
for start, ctrl, end, color, lw in D_ARCS:
    splice(ax, start, ctrl, end, color, lw)
text_rows(D_GENE_LABELS, font=12.5)
coord_rows(D_COORDS)
for rect_y, color, label in [(1193, "#FFFF00", "chr9"), (1218, "#FF0000", "hpv16ref_1")]:
    bg.add_patch(Rectangle((827, rect_y), 36, 14, fc=color, lw=0))
    bg.text(876, rect_y + 7, label, va="center", fontsize=12.3, color="#333333")

# scale legends
scale_legend(190, 239.3, (1357.3, 1378.3), "#DAA520", 1444, [1461, 1487, 1513, 1539, 1566], 1582.7, (1585, 1705),
             [1600, 1622, 1644, 1666, 1688], C_RNA_PRIMARY, C_RNA_SECONDARY, C_WGS_TICKS, 182, 246.7,
             (104.3, 139.3), [(1465.7, 1561.7), (1595.7, 1691.7)], (290, 325), [(1456.7, 1570), (1587.3, 1700.7)],
             "#FFA500", 7.4, 9.6)
scale_legend(1296.7, 1345, (1409, 1429), "#FFFF00", 1429.3, [1446.3, 1477, 1507.7, 1538.7, 1569.3], 1586,
             (1587.3, 1726), [1602.7, 1629.3, 1656, 1682.7, 1709.3], D_RNA_PRIMARY, D_RNA_SECONDARY, D_WGS_TICKS,
             1289.3, 1352, (1214.3, 1246), [(1464, 1552.3), (1612.3, 1700)], (1395, 1427.3),
             [(1456, 1559.3), (1604.3, 1707.7)], "#FF8C00", 6.7, 8.9)

# legend panel
bg.add_patch(Rectangle((445, 1366), 632, 404, fc="white", ec="#111111", lw=1.8, zorder=3))
z = {"zorder": 4}
bg.text(780, 1404, "Legend", ha="center", va="center", fontsize=21, color="#111111", **z)
for label, x, y, color in [("Gene names", 868, 1478, "#333333"), ("Segment coordinates", 868, 1511, "#333333"),
                           ("Gene endpoint,", 868, 1543, "#333333"), ("directionality and exon", 868, 1557, "#333333"),
                           ("indicators", 868, 1571, "#333333"), ("RNA-seq coverage", 856, 1614, "#333333"),
                           ("WGS coverage", 848, 1639, "#333333"), ("WGS background coverage", 848, 1675, "#33EE88"),
                           ("Human-viral RNA splice-junctions", 574, 1719, "#E8202A"),
                           ("RNA-seq expression log2", 516, 1590, "#E8A970"),
                           ("fold-change over baseline", 516, 1604, "#E8A970"),
                           ("RNA-seq expression baseline,", 516, 1637, "#5C5590"),
                           ("log2 fold-change = 0", 516, 1651, "#5C5590")]:
    bg.text(x, y, label, ha="left", va="center", fontsize=8.3, color=color, **z)
for (x0, y0), (x1, y1) in [((862.6, 1541.7), (842, 1544)), ((844, 1616), (823.6, 1620)), ((844, 1641), (823.6, 1645)),
                           ((836, 1672.7), (815, 1676.7)), ((672, 1605), (690, 1600)), ((680, 1629), (697.6, 1625))]:
    bg.annotate("", xy=(x1, y1), xytext=(x0, y0), zorder=4,
                arrowprops=dict(arrowstyle="-|>", color="#555555", lw=1.2, mutation_scale=10, shrinkA=0, shrinkB=0))
for label, x, y, rot in FAN_GENES:
    bg.text(x, y, label, rotation=rot, ha="center", va="center", rotation_mode="anchor", fontsize=12, color="#222222", **z)
for label, x, y, rot in FAN_COORDS:
    bg.text(x, y, label, rotation=rot, ha="center", va="center", rotation_mode="anchor", fontsize=7, color="#A8A8A8", **z)

fan = polar_axes(774, 1733, 230, 230)
band(fan, -34, 27, 60, 118, "#DCDCDC")
for r in [110, 72]:
    arc(fan, -30, 25, r, color="#EDEDED", lw=0.9)
arc(fan, -34, -27, 67, color="#A8E0A8", lw=1.0)
arc(fan, 20, 27, 67, color="#A8E0A8", lw=1.0)
for t0, t1 in FAN_GAPS:
    for r in FAN_GRID:
        arc(fan, t0, t1, r, color="#EAEAEA", lw=0.9)
for t0, t1, r in FAN_ORANGE:
    arc(fan, t0, t1, r, color="#F2A030", lw=1.1)
for t0, t1, r in FAN_PURPLE:
    arc(fan, t0, t1, r, color="#7A4FA0", lw=1.1)
for ts, rs in FAN_RNA:
    trace(fan, ts, rs, color="#111111", lw=1.2)
for ts, rs in FAN_WGS:
    trace(fan, ts, rs, color="#222222", lw=1.1)
band(fan, -24, 17, 186, 196, "#808080")
for t0, t1 in FAN_YELLOW:
    band(fan, t0, t1, 178, 204, "#FFFF00")
    arc(fan, t0, t1, 191, color="black", lw=1.6)
for t0, t1, c_out, c_in in FAN_BLOCKS:
    band(fan, t0, t1, 191, 206, c_out)
    band(fan, t0, t1, 177, 191, c_in)
band(fan, *FAN_BLOCK_FLIPPED, 177, 191, "red")
band(fan, *FAN_BLOCK_FLIPPED, 191, 205, "#111111")
for start, ctrl, end in FAN_ARCS:
    splice(fan, (start[0], -start[1]), (ctrl[0], -ctrl[1]), (end[0], -end[1]), "#E82020", 1.1)

fig.savefig("out.png", dpi=100)
